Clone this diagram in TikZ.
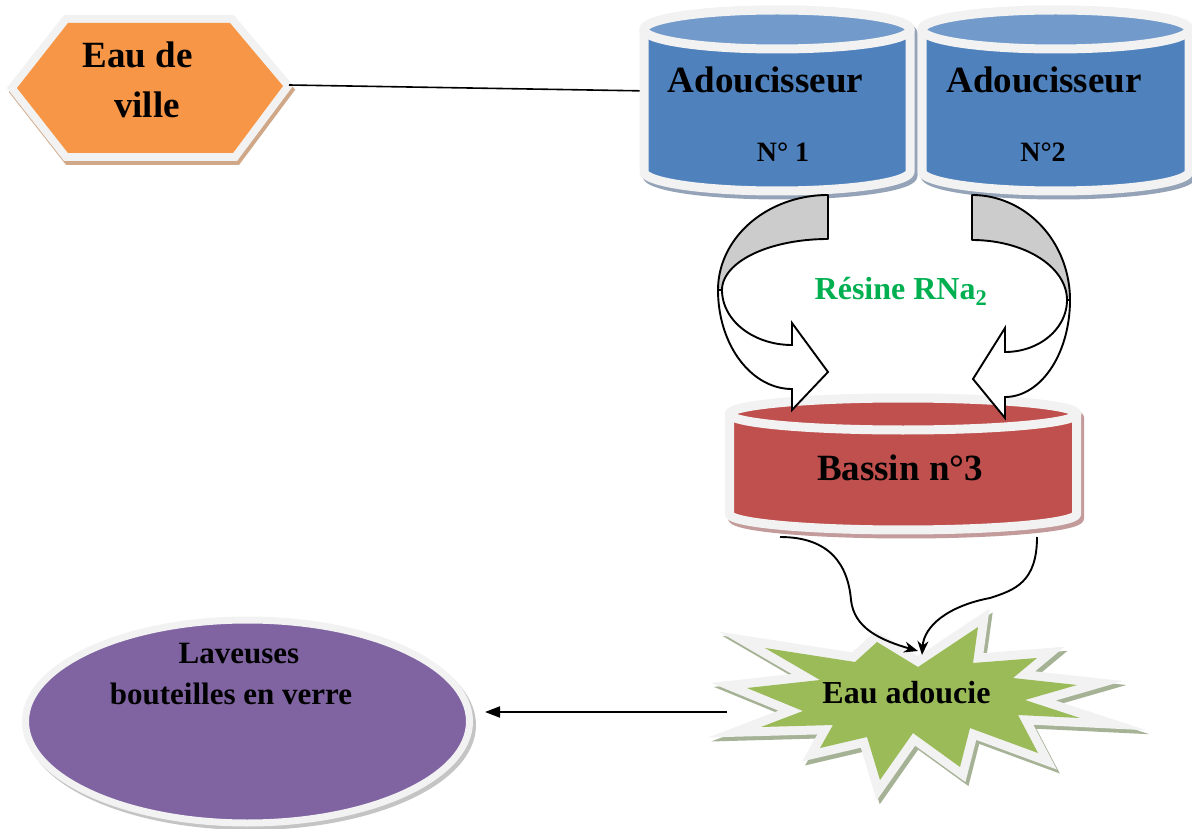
\documentclass[tikz,border=0pt]{standalone}
\usepackage{fontspec}
\setmainfont{Liberation Serif}
\usetikzlibrary{arrows.meta}
\definecolor{wline}{HTML}{F2F2F2}
\definecolor{horange}{HTML}{F79646}
\definecolor{hshadow}{HTML}{D0A888}
\definecolor{cblue}{HTML}{4F81BD}
\definecolor{ctop}{HTML}{729ACA}
\definecolor{cshadow}{HTML}{95A3B8}
\definecolor{bred}{HTML}{C0504D}
\definecolor{bshadow}{HTML}{C29B9A}
\definecolor{sgreen}{HTML}{9BBB59}
\definecolor{sshadow}{HTML}{A6B296}
\definecolor{epurple}{HTML}{8064A2}
\definecolor{eshadow}{HTML}{C4C4C4}
\definecolor{bandgray}{HTML}{CCCCCC}
\definecolor{resgreen}{HTML}{00B050}
\newcommand\fsz[2]{\fontsize{#1}{#2}\selectfont}
\newcommand\drawcyl[8]{%
  \path[fill=#8, draw=#8, line width=9pt, shift={(3,4)}]
    plot[domain=180:360, samples=72] ({#1+#2*cos(\x)},{#3+#5*sin(\x)})
    -- plot[domain=0:180, samples=72] ({#1+#2*cos(\x)},{#4+#5*sin(\x)}) -- cycle;
  \path[fill=#6, draw=wline, line width=9pt]
    plot[domain=180:360, samples=72] ({#1+#2*cos(\x)},{#3+#5*sin(\x)})
    -- plot[domain=0:180, samples=72] ({#1+#2*cos(\x)},{#4+#5*sin(\x)}) -- cycle;
  \path[fill=#7, draw=wline, line width=9pt] (#1,#3) ellipse [x radius=#2pt, y radius=#5pt];
}
\tikzset{
  hexpath/.style={insert path={(17,88) -- (68,23) -- (230,23) -- (283,86) -- (233,153) -- (68,153) -- cycle}},
  starpath/.style={insert path={(877,642) -- (918,667) -- (978,627) -- (973,663) -- (1037,658) -- (1013,678)
     -- (1077,685) -- (1025,700) -- (1080,718) -- (1018,715) -- (1038,753) -- (970,728) -- (960,767)
     -- (913,733) -- (880,780) -- (867,737) -- (820,748) -- (833,725) -- (761,727) -- (803,711)
     -- (747,688) -- (820,680) -- (765,648) -- (855,662) -- cycle}},
  txt/.style={inner sep=0pt, text=black},
  conn/.style={draw=black, line width=1.9pt},
  backarrow/.style={fill=bandgray, draw=black, line width=1.9pt, line join=round},
  frontarrow/.style={fill=white, draw=black, line width=1.9pt, line join=miter},
}
\begin{document}
\begin{tikzpicture}[x=1pt, y=-1pt]
\useasboundingbox (0,0) rectangle (1192,829);
\fill[white] (0,0) rectangle (1192,829);

% hexagon "Eau de ville"
\path[fill=hshadow, draw=hshadow, line width=16pt, shift={(2,4)}, hexpath];
\path[draw=wline, line width=16pt, hexpath];
\path[fill=horange, hexpath];
\coordinate (hexR) at (289,85);
\coordinate (cylL) at (650,91);
\draw[line width=1.6pt] (hexR) -- (cylL);

% softeners
\drawcyl{777}{133}{29.5}{171.5}{19.5}{cblue}{ctop}{cshadow}
\drawcyl{1055.5}{133.5}{29.5}{171.5}{19.5}{cblue}{ctop}{cshadow}

% basin
\drawcyl{903}{173.5}{414}{514}{16}{bred}{bred}{bshadow}

% left curved arrow
\path[backarrow] (828,195) -- (828,239)
  -- plot[domain=270:180, samples=50] ({828+106*cos(\x)},{290+51*sin(\x)})
  -- plot[domain=180:270, samples=50] ({828+110*cos(\x)},{290+95*sin(\x)}) -- cycle;
\path[frontarrow] plot[domain=180:90, samples=50] ({792+74*cos(\x)},{290+99*sin(\x)})
  -- (792,410) -- (828,372) -- (792,323)
  -- plot[domain=90:180, samples=50] ({792+70*cos(\x)},{290+55*sin(\x)}) -- cycle;

% right curved arrow
\path[backarrow] (972,195) -- (972,240)
  -- plot[domain=270:360, samples=50] ({972+95*cos(\x)},{300+60*sin(\x)})
  -- plot[domain=360:270, samples=50] ({972+98*cos(\x)},{300+105*sin(\x)}) -- cycle;
\path[frontarrow] plot[domain=0:90, samples=50] ({1005+65*cos(\x)},{300+97*sin(\x)})
  -- (1005,418) -- (973,379) -- (1005,328)
  -- plot[domain=90:0, samples=50] ({1005+62*cos(\x)},{300+52*sin(\x)}) -- cycle;

% star "Eau adoucie"
\path[fill=sshadow, draw=sshadow, line width=18pt, shift={(3,4)}, starpath];
\path[draw=wline, line width=18pt, starpath];
\path[fill=sgreen, starpath];

% connectors basin -> star
\coordinate (basL) at (780,537);
\coordinate (basR) at (1037,537);
\coordinate (starT1) at (918,651);
\coordinate (starT2) at (922,655);
\draw[conn, -{Stealth[length=14pt,width=11pt]}] (basL) .. controls (830,537) and (848,565) .. (851,600)
  .. controls (854,628) and (880,640) .. (starT1);
\draw[conn, -{Stealth[length=14pt,width=11pt]}] (basR) .. controls (1037,582) and (1015,590) .. (990,598)
  .. controls (948,606) and (924,626) .. (starT2);

% ellipse "Laveuses"
\path[fill=eshadow, draw=eshadow, line width=7pt] (250.5,725) ellipse [x radius=222pt, y radius=101.5pt];
\path[fill=epurple, draw=wline, line width=7pt] (247.5,721.5) ellipse [x radius=222pt, y radius=101.5pt];

\coordinate (starL) at (727,712);
\coordinate (lavR) at (485,712);
\draw[conn, -{Triangle[length=15pt,width=11pt]}] (starL) -- (lavR);

% texts
\node[txt, align=center, font=\fsz{37}{50}\bfseries] (eau) at (147,79.5) {Eau de\kern19pt\\ville};
\node[txt, anchor=base, font=\fsz{37}{44}\bfseries] (ad1) at (765.5,93) {Adoucisseur};
\node[txt, anchor=base, font=\fsz{28}{34}\bfseries] (n1) at (783,162) {N° 1};
\node[txt, anchor=base, font=\fsz{37}{44}\bfseries] (ad2) at (1044,93) {Adoucisseur};
\node[txt, anchor=base, font=\fsz{28}{34}\bfseries] (n2) at (1043,162) {N°2};
\node[txt, anchor=base, text=resgreen, font=\fsz{32}{38}\bfseries] (res) at (901,299) {Résine RNa\textsubscript{2}};
\node[txt, anchor=base, font=\fsz{37}{44}\bfseries] (bas) at (900,480) {Bassin n°3};
\node[txt, anchor=base, font=\fsz{32}{38}\bfseries] (adou) at (906.5,703) {Eau adoucie};
\node[txt, align=center, font=\fsz{31}{41}\bfseries] (lav) at (231,674) {\hspace*{16pt}Laveuses\\bouteilles en verre};
\end{tikzpicture}
\end{document}
